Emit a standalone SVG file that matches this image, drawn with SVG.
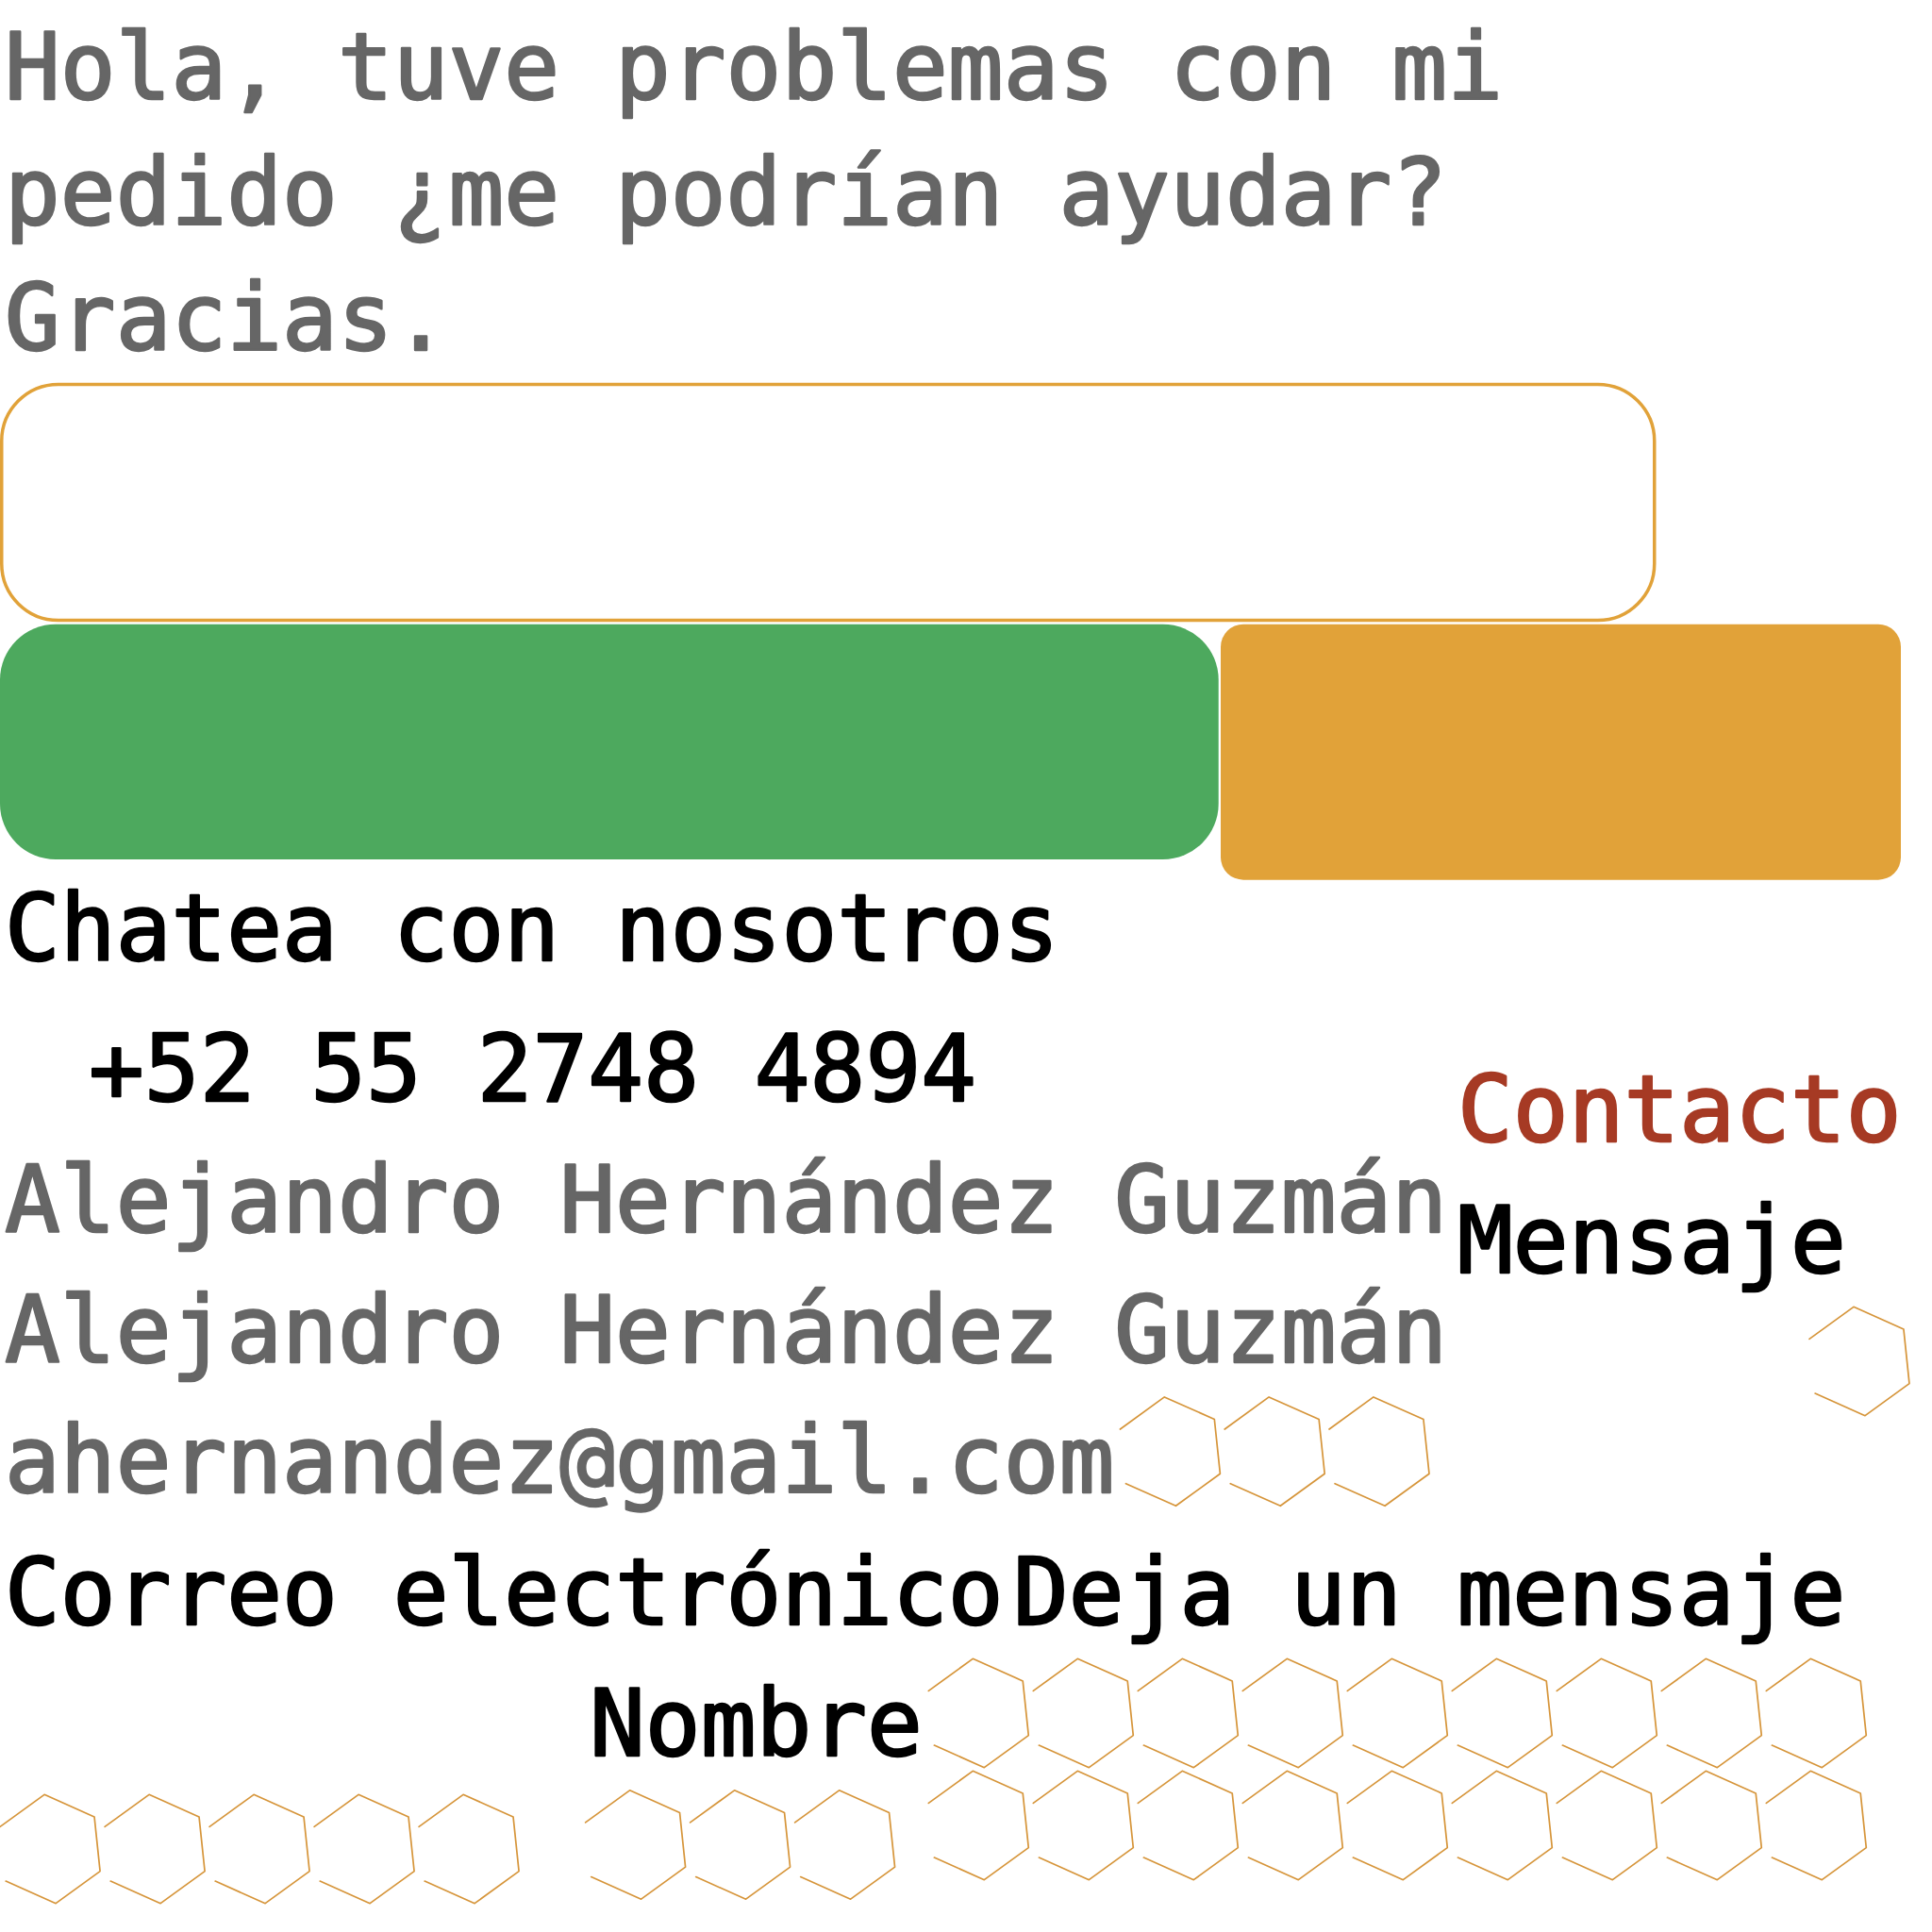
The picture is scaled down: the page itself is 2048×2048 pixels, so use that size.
<svg xmlns="http://www.w3.org/2000/svg" xmlns:xlink="http://www.w3.org/1999/xlink" width="2048" height="2048" viewBox="0 0 2048 2048">
  <style>
    .t { font-family: "DejaVu Sans Mono", "Liberation Mono", monospace; font-size: 97.7px; stroke-width: 2.4px; stroke-linejoin: round; }
    .grey { fill: #666666; stroke: #666666; }
    .black { fill: #000000; stroke: #000000; }
    .red { fill: #A63A24; stroke: #A63A24; }
    .hex { fill: none; stroke: #D6953A; stroke-width: 1.7; stroke-linejoin: round; stroke-linecap: round; }
  </style>
  <defs>
    <path id="hexshape" d="M -52.98,-23.59 L -6.06,-57.68 L 46.92,-34.09 L 52.98,23.59 L 6.06,57.68 L -46.92,34.09"/>
  </defs>
  <rect width="2048" height="2048" fill="#ffffff"/>

  <g id="message-text">
    <text class="t grey" x="5" y="104.5">Hola, tuve problemas con mi</text>
    <text class="t grey" x="5" y="238">pedido ¿me podrían ayudar?</text>
    <text class="t grey" x="5" y="371">Gracias.</text>
  </g>

  <g id="message-box">
    <rect x="1.75" y="407.5" width="1752" height="250" rx="60" ry="60" fill="#ffffff" stroke="#E1A239" stroke-width="3.5"/>
  </g>

  <g id="chat-button">
    <rect x="0" y="661.7" width="1291.7" height="249.3" rx="59" ry="59" fill="#4DA95E"/>
  </g>

  <g id="contact-button">
    <rect x="1294" y="661.7" width="721" height="271" rx="24" ry="24" fill="#E1A239"/>
  </g>

  <g id="chat-label">
    <text class="t black" x="5" y="1018">Chatea con nosotros</text>
  </g>
  <g id="phone">
    <text class="t black" x="94" y="1166.5">+52 55 2748 4894</text>
  </g>
  <g id="contact-title">
    <text class="t red" x="1545" y="1210">Contacto</text>
  </g>
  <g id="mensaje-label">
    <text class="t black" x="1545" y="1349">Mensaje</text>
  </g>
  <g id="name-1">
    <text class="t grey" x="5" y="1306">Alejandro Hernández Guzmán</text>
  </g>
  <g id="name-2">
    <text class="t grey" x="5" y="1444">Alejandro Hernández Guzmán</text>
  </g>
  <g id="email">
    <text class="t grey" x="5" y="1582">ahernandez@gmail.com</text>
  </g>
  <g id="email-label">
    <text class="t black" x="5" y="1722">Correo electrónico</text>
  </g>
  <g id="leave-message">
    <text class="t black" x="1074" y="1722">Deja un mensaje</text>
  </g>
  <g id="name-label">
    <text class="t black" x="625" y="1861">Nombre</text>
  </g>

  <g id="connectors"></g>

  <g id="hexagons" class="hex">
    <use xlink:href="#hexshape" transform="translate(1971,1443)"/>

    <use xlink:href="#hexshape" transform="translate(1240.4,1538.6)"/>
    <use xlink:href="#hexshape" transform="translate(1351.2,1538.6)"/>
    <use xlink:href="#hexshape" transform="translate(1462,1538.6)"/>

    <use xlink:href="#hexshape" transform="translate(1037.3,1816)"/>
    <use xlink:href="#hexshape" transform="translate(1148.3,1816)"/>
    <use xlink:href="#hexshape" transform="translate(1259.3,1816)"/>
    <use xlink:href="#hexshape" transform="translate(1370.3,1816)"/>
    <use xlink:href="#hexshape" transform="translate(1481.3,1816)"/>
    <use xlink:href="#hexshape" transform="translate(1592.3,1816)"/>
    <use xlink:href="#hexshape" transform="translate(1703.3,1816)"/>
    <use xlink:href="#hexshape" transform="translate(1814.3,1816)"/>
    <use xlink:href="#hexshape" transform="translate(1925.3,1816)"/>

    <use xlink:href="#hexshape" transform="translate(1037.3,1935)"/>
    <use xlink:href="#hexshape" transform="translate(1148.3,1935)"/>
    <use xlink:href="#hexshape" transform="translate(1259.3,1935)"/>
    <use xlink:href="#hexshape" transform="translate(1370.3,1935)"/>
    <use xlink:href="#hexshape" transform="translate(1481.3,1935)"/>
    <use xlink:href="#hexshape" transform="translate(1592.3,1935)"/>
    <use xlink:href="#hexshape" transform="translate(1703.3,1935)"/>
    <use xlink:href="#hexshape" transform="translate(1814.3,1935)"/>
    <use xlink:href="#hexshape" transform="translate(1925.3,1935)"/>

    <use xlink:href="#hexshape" transform="translate(53.1,1960)"/>
    <use xlink:href="#hexshape" transform="translate(164.1,1960)"/>
    <use xlink:href="#hexshape" transform="translate(275.1,1960)"/>
    <use xlink:href="#hexshape" transform="translate(386.1,1960)"/>
    <use xlink:href="#hexshape" transform="translate(497.1,1960)"/>

    <use xlink:href="#hexshape" transform="translate(673.6,1955.5)"/>
    <use xlink:href="#hexshape" transform="translate(784.6,1955.5)"/>
    <use xlink:href="#hexshape" transform="translate(895.6,1955.5)"/>
  </g>
</svg>
